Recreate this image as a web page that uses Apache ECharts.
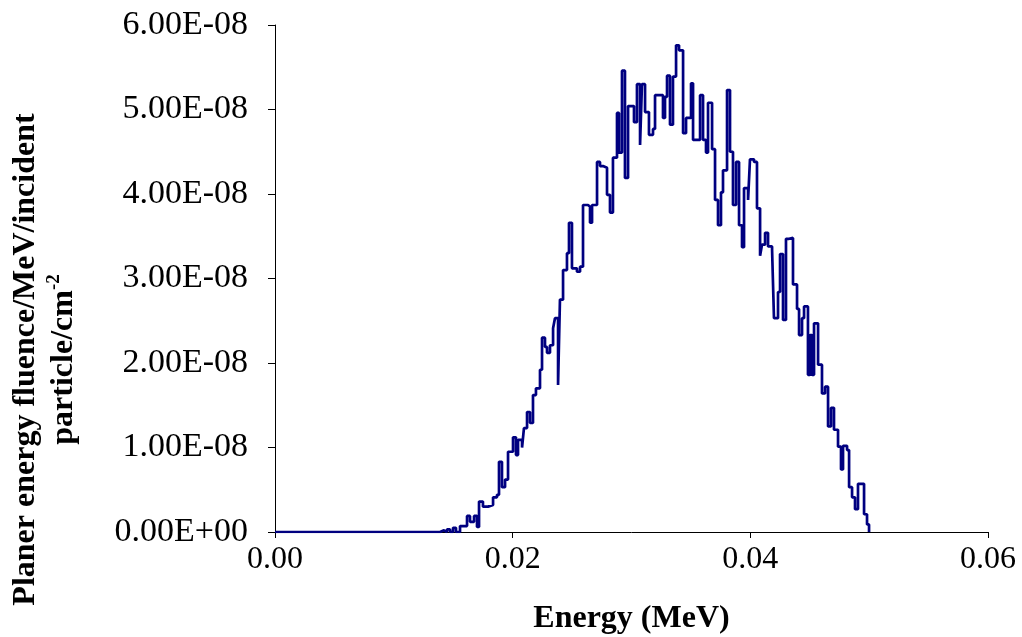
<!DOCTYPE html>
<html>
<head>
<meta charset="utf-8">
<script src="https://cdn.jsdelivr.net/npm/echarts@6/dist/echarts.min.js"></script>
<style>
html, body { margin: 0; background: #fff; }
#chart { width: 1022px; height: 637px; }
</style>
</head>
<body>
<div id="chart"></div>
<script>
// bin left edges (MeV)
var energy = [
    0, 0.01389, 0.01422, 0.01447, 0.01473, 0.01498, 0.01523, 0.01557, 0.01616, 0.01641,
    0.01675, 0.01700, 0.01717, 0.01750, 0.01793, 0.01835, 0.01868, 0.01885, 0.01910, 0.01936,
    0.01961, 0.02003, 0.02028, 0.02045, 0.02079, 0.02095, 0.02121, 0.02146, 0.02171, 0.02196,
    0.02230, 0.02247, 0.02272, 0.02289, 0.02314, 0.02340, 0.02356, 0.02382, 0.02398, 0.02424,
    0.02457, 0.02474, 0.02499, 0.02541, 0.02567, 0.02592, 0.02634, 0.02651, 0.02668, 0.02710,
    0.02735, 0.02760, 0.02794, 0.02819, 0.02844, 0.02878, 0.02895, 0.02920, 0.02945, 0.02971,
    0.03021, 0.03046, 0.03072, 0.03088, 0.03114, 0.03147, 0.03181, 0.03198, 0.03265, 0.03282,
    0.03299, 0.03324, 0.03349, 0.03375, 0.03400, 0.03434, 0.03459, 0.03501, 0.03518, 0.03577,
    0.03602, 0.03627, 0.03644, 0.03678, 0.03703, 0.03728, 0.03753, 0.03770, 0.03804, 0.03829,
    0.03854, 0.03880, 0.03905, 0.03930, 0.03947, 0.03981, 0.03997, 0.04031, 0.04056, 0.04082,
    0.04098, 0.04124, 0.04149, 0.04183, 0.04199, 0.04233, 0.04250, 0.04275, 0.04300, 0.04326,
    0.04359, 0.04393, 0.04410, 0.04435, 0.04452, 0.04485, 0.04502, 0.04519, 0.04536, 0.04570,
    0.04603, 0.04629, 0.04654, 0.04679, 0.04704, 0.04738, 0.04763, 0.04780, 0.04814, 0.04831,
    0.04856, 0.04881, 0.04906, 0.04957, 0.04982, 0.04999
];

// planar energy fluence per bin, in units of 1e-8 MeV^-1 cm^-2
var fluenceE8 = [
    0, 0.02, 0, 0.03, 0, 0.05, 0, 0.07, 0.19, 0.12,
    0.19, 0.06, 0.36, 0.30, 0.32, 0.41, 0.44, 0.83, 0.53, 0.62,
    0.95, 1.12, 0.91, 1.09, 1.00, 1.23, 1.42, 1.29, 1.62, 1.70,
    1.92, 2.30, 2.19, 2.12, 2.21, 2.41, 2.53, 1.74, 2.75, 3.10,
    3.30, 3.66, 3.12, 3.08, 3.14, 3.87, 3.85, 3.66, 3.87, 4.38,
    4.33, 4.31, 3.99, 3.78, 4.43, 4.96, 4.49, 5.46, 4.19, 5.04,
    4.85, 5.30, 4.58, 5.30, 4.97, 4.70, 4.77, 5.17, 4.90, 5.15,
    5.40, 4.82, 5.39, 5.76, 5.70, 4.72, 4.90, 5.31, 4.64, 5.17,
    4.64, 4.49, 5.08, 4.53, 3.93, 3.63, 4.02, 4.28, 5.23, 4.50,
    3.87, 4.38, 3.63, 3.37, 4.07, 3.93, 4.41, 4.38, 3.83, 3.27,
    3.40, 3.54, 3.38, 3.34, 2.53, 2.84, 3.29, 2.51, 3.47, 3.48,
    2.93, 2.64, 2.33, 2.53, 2.67, 1.86, 2.33, 1.86, 2.47, 1.98,
    1.64, 1.72, 1.25, 1.47, 1.21, 1.01, 0.74, 1.02, 0.97, 0.53,
    0.41, 0.27, 0.57, 0.21, 0.09, 0
];

// axis ticks
var xTicks = { min: 0, max: 0.06, interval: 0.02 };
var yTicks = { min: 0, max: 6e-8, interval: 1e-8 };

var serif = '"Liberation Serif", "Times New Roman", serif';

function sciLabel(v) {
    var s = v.toExponential(2).toUpperCase();
    return s.replace(/E([+-])(\d)$/, 'E$10$2');
}

var chart = echarts.init(document.getElementById('chart'));
chart.setOption({
    animation: false,
    backgroundColor: '#fff',
    grid: { left: 275, top: 25, right: 34, bottom: 105, containLabel: false, outerBoundsMode: 'none' },
    xAxis: {
        type: 'value',
        min: xTicks.min,
        max: xTicks.max,
        interval: xTicks.interval,
        name: 'Energy (MeV)',
        nameLocation: 'middle',
        nameGap: 71,
        nameTextStyle: { fontFamily: serif, fontSize: 32, fontWeight: 'bold', color: '#000' },
        axisLine: { lineStyle: { color: '#000', width: 1 } },
        axisTick: { show: true, length: 6, lineStyle: { color: '#000' } },
        axisLabel: {
            margin: 12,
            fontFamily: serif, fontSize: 32, color: '#000',
            formatter: function (v) { return v.toFixed(2); }
        },
        splitLine: { show: false }
    },
    yAxis: {
        type: 'value',
        min: yTicks.min,
        max: yTicks.max,
        interval: yTicks.interval,
        name: '{t|Planer energy fluence/MeV/incident}\n{t|particle/cm}{sup|-2}',
        nameLocation: 'middle',
        nameRotate: 90,
        nameGap: 192,
        nameTextStyle: {
            fontFamily: serif, fontSize: 32, fontWeight: 'bold', color: '#000',
            padding: [0, 162, 0, 0],
            rich: {
                t: { fontFamily: serif, fontSize: 32, fontWeight: 'bold', color: '#000', lineHeight: 38 },
                sup: { fontFamily: serif, fontSize: 19, fontWeight: 'bold', color: '#000', verticalAlign: 'top', lineHeight: 24 }
            }
        },
        axisLine: { show: true, lineStyle: { color: '#000', width: 1 } },
        axisTick: { show: true, length: 7, lineStyle: { color: '#000' } },
        axisLabel: {
            margin: 27,
            fontFamily: serif, fontSize: 34, color: '#000',
            formatter: sciLabel
        },
        splitLine: { show: false }
    },
    series: [{
        type: 'line',
        step: 'end',
        showSymbol: false,
        lineStyle: { color: '#000080', width: 2.7 },
        data: energy.map(function (e, i) { return [e, fluenceE8[i] * 1e-8]; })
    }]
});
</script>
</body>
</html>
